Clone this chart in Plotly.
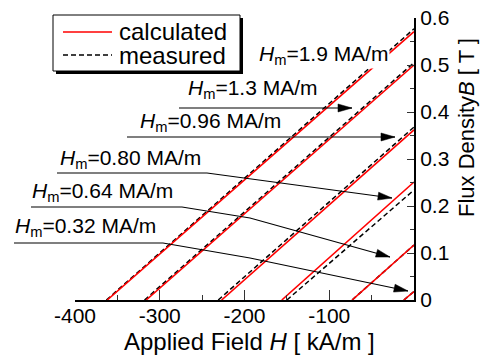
import plotly.graph_objects as go

# ---------------- data ----------------
Hm_labels = ["1.9", "1.3", "0.96", "0.80", "0.64", "0.32"]          # MA/m
calc_H_at_B0 = [-362, -316, -227, -156, -73, -12]                  # kA/m where B = 0
calc_B_at_H0 = [0.571, 0.500, 0.362, 0.251, 0.117, 0.018]          # T at H = 0
meas_H_at_B0 = [-363, -318, -231, -150, -73, -12]
meas_B_at_H0 = [0.577, 0.505, 0.368, 0.234, 0.117, 0.018]

x_ticks = [-400, -300, -200, -100, 0]
x_ticktext = ["-400", "-300", "-200", "-100", ""]
y_ticks = [0, 0.1, 0.2, 0.3, 0.4, 0.5, 0.6]
y_ticktext = ["0", "0.1", "0.2", "0.3", "0.4", "0.5", "0.6"]

# ---------------- layout geometry ----------------
W, H = 481, 356
ML, MR, MT, MB = 75, 67, 18, 56
PW, PH = W - ML - MR, H - MT - MB
FONT = "Liberation Sans, Arial, Helvetica, sans-serif"
DASH = "5px,3px"


def px(x):  # pixel -> paper x
    return (x - ML) / PW


def py(y):  # pixel -> paper y
    return (H - MB - y) / PH


fig = go.Figure()

# measured first (underneath), then calculated
for i, lab in enumerate(Hm_labels):
    fig.add_trace(go.Scatter(
        x=[meas_H_at_B0[i], 0], y=[0, meas_B_at_H0[i]], mode="lines",
        line=dict(color="black", width=1.5, dash=DASH),
        name="measured", legendgroup="measured", showlegend=False,
        hoverinfo="skip"))
for i, lab in enumerate(Hm_labels):
    fig.add_trace(go.Scatter(
        x=[calc_H_at_B0[i], 0], y=[0, calc_B_at_H0[i]], mode="lines",
        line=dict(color="red", width=1.6),
        name="calculated", legendgroup="calculated", showlegend=False,
        hoverinfo="skip"))

# ---------------- labels with leader arrows ----------------
label_pos = {  # left x, centre y (pixels)
    "1.9": (258, 55), "1.3": (187, 89), "0.96": (139, 122),
    "0.80": (59, 159), "0.64": (31, 192), "0.32": (14, 227),
}
leaders = {
    "1.3": [(179, 108), (352, 108)],
    "0.96": [(127, 137), (395, 137)],
    "0.80": [(57, 173), (207, 173), (392, 198)],
    "0.64": [(31, 207), (182, 207), (250, 218), (390, 257)],
    "0.32": [(14, 243), (163, 243), (250, 258), (408, 291)],
}
shapes = []
annotations = []
for lab in Hm_labels:
    lx, ly = label_pos[lab]
    annotations.append(dict(
        xref="paper", yref="paper", x=px(lx), y=py(ly), xanchor="left",
        yanchor="middle", showarrow=False,
        text="<i>H</i><sub>m</sub>=%s MA/m" % lab,
        font=dict(family=FONT, size=21, color="black"),
        bgcolor="white" if lab == "1.9" else None, borderpad=0))
    if lab in leaders:
        pts = leaders[lab]
        path = "M " + " L ".join(f"{px(a):.5f},{py(b):.5f}" for a, b in pts)
        shapes.append(dict(type="path", xref="paper", yref="paper", path=path,
                           line=dict(color="black", width=1.1)))
        # arrow head (pixel geometry)
        (x1, y1), (x2, y2) = pts[-2], pts[-1]
        dx, dy = x2 - x1, y2 - y1
        n = (dx * dx + dy * dy) ** 0.5
        ux, uy = dx / n, dy / n
        Lh, Wh = 14, 4
        bx, by = x2 - ux * Lh, y2 - uy * Lh
        p1 = (bx - uy * Wh, by + ux * Wh)
        p2 = (bx + uy * Wh, by - ux * Wh)
        hp = (f"M {px(x2):.5f},{py(y2):.5f} L {px(p1[0]):.5f},{py(p1[1]):.5f} "
              f"L {px(p2[0]):.5f},{py(p2[1]):.5f} Z")
        shapes.append(dict(type="path", xref="paper", yref="paper", path=hp,
                           fillcolor="black", line=dict(color="black", width=0.5)))

# ---------------- legend box (with drop shadow) ----------------
shapes.append(dict(type="rect", xref="paper", yref="paper", layer="above",
                   x0=px(56), x1=px(243), y0=py(74), y1=py(18),
                   fillcolor="black", line=dict(width=0)))
shapes.append(dict(type="rect", xref="paper", yref="paper", layer="above",
                   x0=px(53), x1=px(240), y0=py(71), y1=py(15),
                   fillcolor="white", line=dict(color="black", width=1)))
legend_items = [("calculated", "red", "solid", 32), ("measured", "black", DASH, 55)]
for name, col, dsh, yy in legend_items:
    shapes.append(dict(type="line", xref="paper", yref="paper", layer="above",
                       x0=px(63), x1=px(112), y0=py(yy), y1=py(yy),
                       line=dict(color=col, width=1.5, dash=dsh)))
    annotations.append(dict(
        xref="paper", yref="paper", x=px(117), y=py(yy), xanchor="left",
        yanchor="middle", showarrow=False, text=name,
        font=dict(family=FONT, size=24, color="black")))

# axis titles
annotations.append(dict(
    xref="paper", yref="paper", x=px(466), y=py(128), xanchor="center",
    yanchor="middle", showarrow=False, textangle=-90,
    text="Flux Density<i>B</i> [ T ]",
    font=dict(family=FONT, size=22, color="black")))
annotations.append(dict(
    xref="paper", yref="paper", x=px(250), y=py(341), xanchor="center",
    yanchor="middle", showarrow=False,
    text="Applied Field <i>H</i> [ kA/m ]",
    font=dict(family=FONT, size=24, color="black")))

fig.update_layout(
    width=W, height=H, margin=dict(l=ML, r=MR, t=MT, b=MB, pad=0,
                                   autoexpand=False),
    paper_bgcolor="white", plot_bgcolor="white",
    font=dict(family=FONT, size=21, color="black"),
    showlegend=False,
    shapes=shapes, annotations=annotations,
    xaxis=dict(range=[-400, 0], tickvals=x_ticks, ticktext=x_ticktext,
               automargin=False, ticklabelstandoff=-4,
               ticks="inside", ticklen=10, tickwidth=1.3, tickcolor="#333",
               minor=dict(dtick=50, tick0=-400, ticks="inside", ticklen=5,
                          tickwidth=1.3, tickcolor="#333"),
               showline=True, linecolor="black", linewidth=2,
               showgrid=False, zeroline=False,
               tickfont=dict(family=FONT, size=21, color="black")),
    yaxis=dict(range=[0, 0.6], side="right", tickvals=y_ticks,
               automargin=False,
               ticktext=y_ticktext, ticks="inside", ticklen=7, tickwidth=1.3,
               tickcolor="#333",
               minor=dict(dtick=0.05, tick0=0, ticks="inside", ticklen=4,
                          tickwidth=1.3, tickcolor="#333"),
               showline=True, linecolor="black", linewidth=2,
               showgrid=False, zeroline=False,
               tickfont=dict(family=FONT, size=21, color="black")),
)

fig.write_html("out.html")
